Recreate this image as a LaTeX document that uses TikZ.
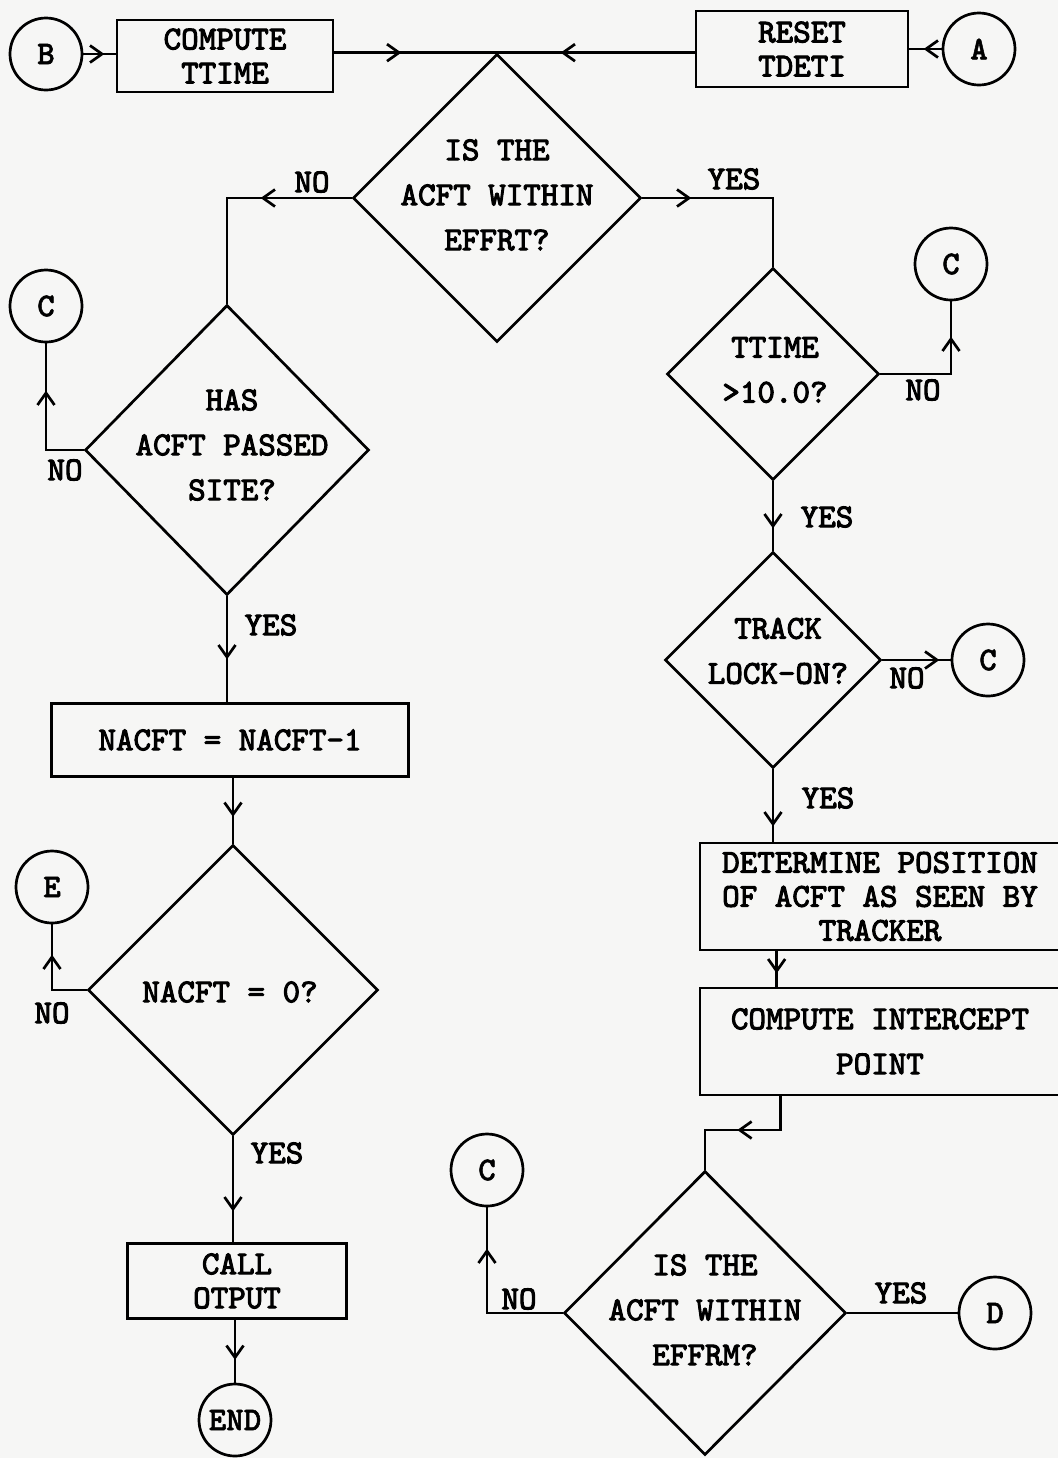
\documentclass[tikz,border=0pt]{standalone}
\usepackage{fontspec}
\newfontfamily\tw{lmmono10-regular.otf}[FakeBold=3]
\newfontfamily\twb{lmmonolt10-bold.otf}[FakeBold=1.5]
\usetikzlibrary{shapes.geometric,arrows.meta,decorations.markings,calc}
\definecolor{paper}{RGB}{246,246,245}
\begin{document}
\begin{tikzpicture}[x=0.5pt,y=-0.5pt,line width=1.35pt,
  tw/.style={font=\tw\fontsize{16.7pt}{17pt}\selectfont, align=center, inner sep=0pt},
  twd/.style={font=\tw\fontsize{16.7pt}{22.5pt}\selectfont, align=center, inner sep=0pt},
  boxn/.style={draw, rectangle, inner sep=0pt, tw},
  circn/.style={draw, circle, minimum size=36pt, inner sep=0pt, font=\twb\fontsize{16.7pt}{17pt}\selectfont},
  dian/.style={draw, diamond, inner sep=0pt},
  marr/.style={postaction={decorate}, decoration={markings, mark=at position #1 with {\arrow{Straight Barb[length=6pt,width=8.5pt]}}}},
]
\fill[paper] (0,0) rectangle (1058,1458);
\useasboundingbox (0,0) rectangle (1058,1458);
\clip (0,0) rectangle (1058,1458);

% top row
\node[circn] (cB) at (46,54) {B};
\node[boxn, minimum width=108pt, minimum height=36pt] (bComp) at (225,56) {COMPUTE\\TTIME};
\node[boxn, minimum width=106pt, minimum height=38pt] (bReset) at (802,49) {RESET\\TDETI};
\node[circn] (cA) at (979,49) {A};

% diamonds
\node[dian, minimum width=144pt, minimum height=144pt] (d1) at (497,198) {};
\node[twd] (t1) at (497,195) {IS THE\\ACFT WITHIN\\EFFRT?};
\node[dian, minimum width=142pt, minimum height=145pt] (d2) at (227,450) {};
\node[twd] (t2) at (232,445) {HAS\\ACFT PASSED\\SITE?};
\node[dian, minimum width=106pt, minimum height=106pt] (d3) at (773,374) {};
\node[twd] (t3) at (775,370) {TTIME\\>10.0?};
\node[dian, minimum width=108pt, minimum height=108pt] (d4) at (773,660) {};
\node[twd] (t4) at (778,651) {TRACK\\LOCK-ON?};
\node[dian, minimum width=145pt, minimum height=145pt] (d5) at (233,990) {};
\node[twd] (t5) at (230,992) {NACFT = 0?};
\node[dian, minimum width=141pt, minimum height=142pt] (d6) at (705,1313) {};
\node[twd] (t6) at (705,1310) {IS THE\\ACFT WITHIN\\EFFRM?};

% boxes
\node[boxn, minimum width=178.5pt, minimum height=36.5pt] (bNacft) at (230,740) {NACFT = NACFT-1};
\node[boxn, minimum width=109.5pt, minimum height=37.5pt] (bCall) at (237,1281) {CALL\\OTPUT};
\node[boxn, minimum width=180pt, minimum height=53.5pt] (bDet) at (880,896.5) {DETERMINE POSITION\\OF ACFT AS SEEN BY\\TRACKER};
\node[boxn, minimum width=180pt, minimum height=53.5pt, font=\tw\fontsize{16.7pt}{22.5pt}\selectfont] (bInt) at (880,1041.5) {COMPUTE INTERCEPT\\POINT};

% circles
\node[circn] (cC1) at (46,306) {C};
\node[circn] (cC2) at (951,264) {C};
\node[circn] (cC3) at (988,660) {C};
\node[circn] (cE) at (52,887) {E};
\node[circn] (cEnd) at (235,1420) {END};
\node[circn] (cC4) at (487,1170) {C};
\node[circn] (cD) at (995,1313) {D};

% connectors
\coordinate (j1) at (0,1130);
\draw[marr=10.5pt] (cB.east) -- (bComp.west |- cB.east);
\draw[marr=33.5pt] (d1.north -| bComp.east) -- (d1.north);
\draw[marr=67pt] (d1.north -| bReset.west) -- (d1.north);
\draw[marr=9pt] (cA.west) -- (bReset.east |- cA.west);
\draw[marr=45.5pt] (d1.west) -- (d1.west -| d2.north) -- (d2.north);
\draw[marr=24.5pt] (d1.east) -- (d1.east -| d3.north) -- (d3.north);
\draw[marr=54pt] (d3.east) -- (d3.east -| cC2.south) -- (cC2.south);
\draw[marr=23.5pt] (d3.south) -- (d4.north);
\draw[marr=28.5pt] (d4.east) -- (cC3.west);
\draw[marr=28.5pt] (d4.south) -- (d4.south |- bDet.north);
\draw[marr=11pt] ([xshift=39pt]bDet.south west) -- ([xshift=39pt]bInt.north west);
\draw[marr=38.5pt] ([xshift=41pt]bInt.south west) -- ([xshift=41pt]bInt.south west |- j1) -- (j1 -| d6.north) -- (d6.north);
\draw[marr=70pt] (d6.west) -- (d6.west -| cC4.south) -- (cC4.south);
\draw (d6.east) -- (cD.west);
\draw[marr=48.5pt] (d2.west) -- (d2.west -| cC1.south) -- (cC1.south);
\draw[marr=31.5pt] (d2.south) -- (d2.south |- bNacft.north);
\draw[marr=19.5pt] (d5.north |- bNacft.south) -- (d5.north);
\draw[marr=35pt] (d5.west) -- (d5.west -| cE.south) -- (cE.south);
\draw[marr=37.5pt] (d5.south) -- (d5.south |- bCall.north);
\draw[marr=20pt] (bCall.south -| cEnd.north) -- (cEnd.north);

% labels
\node[tw] (lNo1) at (312,182) {NO};
\node[tw] (lYes1) at (734,179) {YES};
\node[tw] (lNo2) at (65,470) {NO};
\node[tw] (lYes2) at (271,625) {YES};
\node[tw] (lNo3) at (923,390) {NO};
\node[tw] (lYes3) at (827,517) {YES};
\node[tw] (lNo4) at (907,678) {NO};
\node[tw] (lYes4) at (828,798) {YES};
\node[tw] (lNo5) at (52,1013) {NO};
\node[tw] (lYes5) at (277,1153) {YES};
\node[tw] (lNo6) at (519,1299) {NO};
\node[tw] (lYes6) at (901,1293) {YES};
\end{tikzpicture}
\end{document}
